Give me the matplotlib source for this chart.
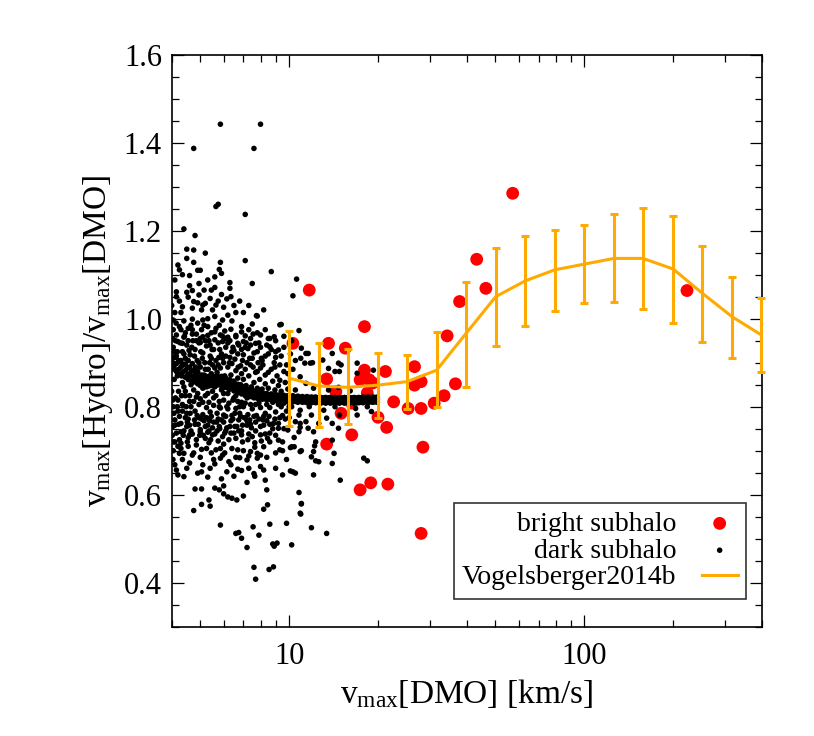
import matplotlib
matplotlib.use("Agg")
import matplotlib.pyplot as plt
from matplotlib.ticker import FixedLocator, NullFormatter, MultipleLocator

plt.rcParams['font.family'] = ['Liberation Serif', 'DejaVu Serif']
plt.rcParams['mathtext.fontset'] = 'custom'
plt.rcParams['mathtext.rm'] = 'Liberation Serif'
plt.rcParams['mathtext.it'] = 'Liberation Serif:italic'

# bright subhaloes (red circles)
bright_x = [11.7, 10.3, 13.6, 15.5, 18.0, 13.4, 18.0, 21.2, 17.4, 18.7, 19.2, 14.4,
            16.3, 18.4, 15.0, 20.0, 21.4, 22.6, 26.6, 28.0, 26.6, 25.3, 28.0, 31.0,
            33.5, 36.6, 16.3, 13.4, 28.4, 17.4, 18.9, 21.6, 28.0, 37.8, 34.3, 43.2,
            46.4, 57.2, 222.8]
bright_y = [1.065, 0.944, 0.944, 0.933, 0.982, 0.863, 0.883, 0.880, 0.861, 0.861, 0.854, 0.834,
            0.808, 0.831, 0.785, 0.776, 0.753, 0.811, 0.891, 0.857, 0.849, 0.796, 0.796, 0.808,
            0.825, 0.852, 0.736, 0.715, 0.708, 0.611, 0.627, 0.624, 0.512, 1.039, 0.961, 1.135,
            1.069, 1.285, 1.064]

# dense ridge of dark subhaloes
ridge_x = [4.0, 4.15, 4.3, 4.45, 4.6, 4.75, 4.9, 5.05, 5.2, 5.35, 5.5, 5.7, 5.9, 6.1,
           6.3, 6.5, 6.7, 6.9, 7.1, 7.35, 7.6, 7.85, 8.1, 8.4, 8.7, 9.0, 9.3, 9.6, 9.9,
           10.3, 10.7, 11.1, 11.5, 11.9, 12.3, 12.8, 13.3, 13.8, 14.3, 14.8, 15.4, 16.0,
           16.6, 17.2, 17.8, 18.5, 19.2, 19.9]
ridge_mid = [0.905, 0.898, 0.890, 0.882, 0.875, 0.869, 0.864, 0.861, 0.859, 0.858, 0.859, 0.860,
             0.858, 0.855, 0.851, 0.846, 0.842, 0.838, 0.834, 0.831, 0.828, 0.826, 0.825, 0.823,
             0.822, 0.821, 0.820, 0.819, 0.818, 0.818, 0.817, 0.817, 0.816, 0.816, 0.816, 0.815,
             0.815, 0.815, 0.815, 0.815, 0.815, 0.815, 0.815, 0.815, 0.816, 0.816, 0.816, 0.816]
ridge_top = [0.925, 0.915, 0.905, 0.897, 0.889, 0.882, 0.876, 0.872, 0.870, 0.869, 0.870, 0.871,
             0.869, 0.865, 0.861, 0.856, 0.851, 0.847, 0.843, 0.839, 0.836, 0.834, 0.832, 0.830,
             0.829, 0.828, 0.827, 0.826, 0.825, 0.825, 0.824, 0.823, 0.823, 0.822, 0.822, 0.821,
             0.821, 0.821, 0.821, 0.821, 0.821, 0.821, 0.821, 0.821, 0.822, 0.822, 0.822, 0.822]
ridge_bot = [0.887, 0.880, 0.874, 0.867, 0.861, 0.856, 0.852, 0.849, 0.848, 0.847, 0.848, 0.849,
             0.847, 0.844, 0.840, 0.836, 0.832, 0.829, 0.825, 0.823, 0.820, 0.818, 0.817, 0.816,
             0.815, 0.814, 0.813, 0.812, 0.811, 0.811, 0.810, 0.810, 0.809, 0.809, 0.809, 0.808,
             0.808, 0.808, 0.808, 0.808, 0.808, 0.808, 0.808, 0.809, 0.809, 0.809, 0.810, 0.810]
# ridge points lying between the ones above
ridge_x2 = [4.07, 4.22, 4.37, 4.52, 4.67, 4.82, 4.97, 5.12, 5.27, 5.42, 5.6, 5.8, 6.0, 6.2,
            6.4, 6.6, 6.8, 7.0, 7.22, 7.47, 7.72, 7.97, 8.25, 8.55, 8.85, 9.15, 9.45, 9.75,
            10.1, 10.5, 10.9, 11.3, 11.7, 12.1, 12.55, 13.05, 13.55, 14.05, 14.55, 15.1, 15.7,
            16.3, 16.9, 17.5, 18.15, 18.85, 19.55]
ridge2_up = [0.913, 0.905, 0.896, 0.888, 0.881, 0.875, 0.870, 0.867, 0.865, 0.865, 0.866, 0.866,
             0.863, 0.860, 0.855, 0.850, 0.846, 0.842, 0.838, 0.835, 0.832, 0.830, 0.829, 0.827,
             0.826, 0.825, 0.824, 0.823, 0.823, 0.822, 0.822, 0.821, 0.821, 0.821, 0.820, 0.820,
             0.820, 0.820, 0.820, 0.820, 0.820, 0.820, 0.820, 0.820, 0.821, 0.821, 0.821]
ridge2_dn = [0.891, 0.885, 0.879, 0.871, 0.865, 0.859, 0.855, 0.853, 0.852, 0.852, 0.853, 0.852,
             0.850, 0.847, 0.842, 0.838, 0.834, 0.830, 0.826, 0.823, 0.821, 0.819, 0.818, 0.817,
             0.816, 0.815, 0.814, 0.813, 0.813, 0.812, 0.812, 0.811, 0.811, 0.811, 0.810, 0.810,
             0.810, 0.810, 0.810, 0.810, 0.810, 0.810, 0.810, 0.810, 0.811, 0.811, 0.811]

# scattered dark subhaloes (x, y)
dark_pts = [
    (4.75, 1.387), (5.85, 1.442), (7.6, 1.387), (8.0, 1.442),
    (5.65, 1.255), (5.75, 1.260), (7.1, 1.237), (4.4, 1.204), (4.8, 1.189), (4.5, 1.158),
    (4.75, 1.156), (5.2, 1.149), (4.5, 1.137), (7.1, 1.132), (5.85, 1.128), (8.7, 1.107),
    (10.6, 1.090), (7.5, 1.080), (10.3, 1.052), (7.75, 1.007), (9.3, 0.986),
    (4.2, 1.122), (4.75, 1.128), (4.25, 1.111), (4.9, 1.110), (5.0, 1.110), (5.8, 1.112),
    (5.9, 1.103), (4.6, 1.098), (4.1, 1.088), (4.95, 1.080), (6.3, 1.082),
    (4.15, 1.061), (4.5, 1.060), (4.7, 1.064), (5.45, 1.065), (5.6, 1.071), (5.9, 1.055),
    (6.3, 1.069), (6.35, 1.050), (4.95, 1.054), (4.15, 1.050), (4.55, 1.049), (4.75, 1.039),
    (5.4, 1.046), (5.65, 1.031), (6.0, 1.026), (4.9, 1.036), (5.1, 1.031), (5.2, 1.035),
    (4.35, 1.027), (4.7, 1.024), (5.5, 1.020), (7.0, 1.014), (6.6, 1.014), (6.2, 1.008),
    (7.8, 1.006), (4.1, 1.014), (4.3, 1.014), (4.05, 0.997), (4.7, 0.999), (5.1, 0.997),
    (5.6, 1.005), (5.95, 0.997), (9.4, 0.987), (10.8, 0.973),
    (4.25, 0.982), (4.55, 0.978), (5.3, 0.982), (5.65, 0.978), (6.35, 0.976), (6.9, 0.982),
    (7.5, 0.988), (8.0, 0.963), (8.9, 0.959), (4.15, 0.963), (4.85, 0.965), (5.1, 0.959),
    (5.85, 0.963), (6.6, 0.959), (7.1, 0.961),
    (4.35, 0.944), (5.0, 0.946), (5.4, 0.940), (5.95, 0.948), (6.7, 0.944), (7.4, 0.940),
    (7.7, 0.944), (8.6, 0.936), (9.2, 0.929), (11.0, 0.933), (11.6, 0.921), (11.3, 0.899),
    (12.0, 0.900),
    (4.05, 0.935), (4.2, 0.948), (4.35, 0.925), (4.5, 0.94), (4.62, 0.918), (4.8, 0.93),
    (4.95, 0.945), (5.1, 0.922), (5.25, 0.938), (5.4, 0.915), (5.55, 0.93), (5.75, 0.945),
    (5.9, 0.92), (6.1, 0.935), (6.3, 0.912), (6.5, 0.928), (6.75, 0.94), (7.0, 0.918),
    (7.25, 0.932), (7.5, 0.91), (7.8, 0.925), (8.1, 0.905), (8.5, 0.92), (8.9, 0.9),
    (9.4, 0.915), (9.8, 0.895),
    (4.1, 0.912), (4.28, 0.902), (4.45, 0.91), (4.7, 0.898), (4.88, 0.905), (5.0, 0.89),
    (5.18, 0.9), (5.32, 0.885), (5.5, 0.895), (5.65, 0.905), (5.85, 0.888), (6.0, 0.9),
    (6.2, 0.89), (6.4, 0.898), (6.6, 0.882), (6.85, 0.893), (7.1, 0.885), (7.4, 0.895),
    (7.7, 0.878), (8.0, 0.888), (8.3, 0.872), (8.7, 0.885), (9.1, 0.87), (9.6, 0.88),
    (4.2, 0.875), (4.55, 0.862), (4.9, 0.88), (5.15, 0.872), (5.45, 0.875), (5.7, 0.878),
    (6.05, 0.87), (6.35, 0.872), (6.7, 0.865), (7.0, 0.862), (7.3, 0.87), (7.6, 0.855),
    (7.95, 0.862), (8.3, 0.852), (8.8, 0.858), (9.2, 0.848), (9.7, 0.855),
    (4.4, 0.958), (4.7, 0.965), (5.0, 0.955), (5.3, 0.962), (5.6, 0.952), (5.95, 0.96),
    (6.3, 0.95), (6.6, 0.962), (7.0, 0.948), (7.4, 0.955), (7.9, 0.945), (8.4, 0.94),
    (4.05, 0.8), (4.2, 0.79), (4.35, 0.805), (4.5, 0.785), (4.65, 0.8), (4.8, 0.79),
    (4.95, 0.805), (5.1, 0.782), (5.25, 0.798), (5.4, 0.788), (5.55, 0.803), (5.7, 0.785),
    (5.85, 0.797), (6.0, 0.781), (6.2, 0.795), (6.4, 0.78), (6.6, 0.796), (6.8, 0.785),
    (7.0, 0.8), (7.25, 0.782), (7.5, 0.795), (7.75, 0.78), (8.0, 0.798), (8.3, 0.785),
    (8.6, 0.798), (9.0, 0.788), (9.4, 0.8), (9.8, 0.79),
    (4.1, 0.77), (4.3, 0.762), (4.45, 0.775), (4.6, 0.758), (4.78, 0.77), (4.92, 0.76),
    (5.05, 0.772), (5.2, 0.755), (5.38, 0.768), (5.5, 0.752), (5.68, 0.765), (5.82, 0.75),
    (6.0, 0.765), (6.15, 0.752), (6.35, 0.768), (6.55, 0.755), (6.75, 0.77), (6.95, 0.758),
    (7.2, 0.768), (7.45, 0.752), (7.7, 0.765), (8.0, 0.755), (8.4, 0.768), (8.8, 0.75),
    (9.2, 0.762), (9.7, 0.772),
    (4.2, 0.815), (4.6, 0.812), (5.0, 0.818), (5.35, 0.81), (5.8, 0.812), (6.25, 0.808),
    (6.7, 0.812), (7.1, 0.808), (4.0, 0.835), (4.4, 0.845), (4.75, 0.838), (5.1, 0.842),
    (5.5, 0.835), (5.9, 0.838), (6.2, 0.83), (6.6, 0.825),
    (4.15, 0.74), (4.4, 0.745), (4.7, 0.738), (5.0, 0.748), (5.3, 0.742), (5.6, 0.738),
    (6.1, 0.745), (6.5, 0.74), (6.9, 0.745), (7.3, 0.738), (7.7, 0.745), (8.3, 0.738),
    (4.75, 0.564), (5.85, 0.531), (6.6, 0.512), (6.75, 0.514), (6.9, 0.501), (7.2, 0.480),
    (7.55, 0.527), (7.9, 0.508), (8.6, 0.533), (9.8, 0.535), (8.8, 0.488), (8.9, 0.483),
    (9.1, 0.490), (10.2, 0.486), (11.9, 0.525), (13.4, 0.512), (7.6, 0.435), (7.7, 0.408),
    (8.55, 0.430), (8.85, 0.436),
    (5.05, 0.578), (5.4, 0.574), (5.35, 0.588), (6.0, 0.602), (6.2, 0.595), (6.4, 0.592),
    (6.65, 0.588), (7.0, 0.597), (5.8, 0.611), (6.0, 0.620), (5.6, 0.615), (4.8, 0.613),
    (5.05, 0.613), (8.2, 0.567), (8.45, 0.577), (8.4, 0.611), (10.8, 0.605), (11.0, 0.579),
    (10.95, 0.556),
    (7.2, 0.628), (7.65, 0.642), (8.2, 0.656), (8.3, 0.633), (8.0, 0.664), (7.8, 0.683),
    (7.2, 0.679), (6.8, 0.684), (6.7, 0.658), (6.35, 0.668), (6.15, 0.652), (5.9, 0.636),
    (5.85, 0.683), (5.95, 0.690), (4.4, 0.641), (4.9, 0.649), (5.05, 0.652), (5.3, 0.640),
    (4.15, 0.656), (4.1, 0.668), (4.35, 0.680), (4.4, 0.694), (4.25, 0.694), (4.7, 0.690),
    (4.85, 0.713), (5.05, 0.703), (5.2, 0.728), (5.35, 0.718), (5.45, 0.695), (5.65, 0.702),
    (6.7, 0.702), (7.4, 0.698), (7.8, 0.694), (8.2, 0.709), (8.6, 0.720), (9.2, 0.724),
    (9.8, 0.680), (10.1, 0.654), (10.3, 0.652), (10.5, 0.649), (10.1, 0.707), (10.4, 0.709),
    (11.0, 0.700), (12.1, 0.645), (12.3, 0.677), (12.2, 0.711), (10.4, 0.730), (10.9, 0.753),
    (11.6, 0.751), (9.9, 0.747), (9.2, 0.751), (8.6, 0.740), (8.0, 0.736), (7.5, 0.732),
    (6.9, 0.736), (6.35, 0.740), (5.95, 0.732), (5.5, 0.736), (4.6, 0.736), (4.3, 0.717),
    (4.1, 0.720), (4.3, 0.743), (5.0, 0.743), (4.1, 0.758), (4.5, 0.755), (5.3, 0.758),
    (5.8, 0.755), (6.65, 0.755), (7.2, 0.758), (8.2, 0.758), (8.85, 0.762), (10.9, 0.762),
    (18.4, 0.677), (14.9, 0.633), (11.0, 0.580), (10.9, 0.558), (12.6, 0.675), (14.0, 0.671),
    (12.1, 0.698), (14.2, 0.694), (10.9, 0.698), (9.3, 0.702),
    (10.95, 0.910), (11.4, 0.921), (11.8, 0.899), (13.0, 0.906), (14.0, 0.921), (14.7, 0.899),
    (13.6, 0.887), (14.3, 0.880), (15.0, 0.895), (14.8, 0.880), (17.0, 0.899), (19.3, 0.883),
    (17.0, 0.876), (10.9, 0.868), (11.4, 0.853), (12.1, 0.842), (13.6, 0.838), (14.7, 0.844),
    (16.1, 0.836),
    (10.2, 0.800), (10.9, 0.792), (11.7, 0.800), (10.8, 0.781), (11.9, 0.781), (13.1, 0.792),
    (14.3, 0.800), (13.4, 0.774), (14.8, 0.781), (17.0, 0.781), (16.8, 0.796), (18.4, 0.800),
    (19.0, 0.789), (10.5, 0.766), (11.4, 0.766), (12.6, 0.762), (14.0, 0.762), (14.7, 0.751),
    (10.8, 0.743), (12.1, 0.743), (12.3, 0.720), (14.0, 0.724), (10.2, 0.709), (11.9, 0.686),
    (17.9, 0.683),
    # filling the crowded part of the cloud
    (4.4, 0.995), (4.9, 0.99), (5.3, 1.0), (5.8, 0.985), (6.4, 0.995), (6.9, 0.97),
    (7.3, 0.975), (8.3, 0.975), (8.6, 0.955),
    (4.05, 0.975), (4.45, 0.968), (4.65, 0.985), (5.05, 0.975), (5.45, 0.968), (6.05, 0.972),
    (6.2, 0.958), (7.8, 0.968), (9.0, 0.95), (9.6, 0.96), (10.2, 0.95),
    (4.12, 0.95), (4.58, 0.928), (4.72, 0.95), (5.2, 0.95), (5.48, 0.93), (5.82, 0.93),
    (6.2, 0.945), (6.4, 0.925), (6.9, 0.93), (7.15, 0.945), (7.6, 0.922), (8.0, 0.935),
    (8.3, 0.915), (8.7, 0.93), (9.0, 0.912), (9.6, 0.935), (10.1, 0.92), (10.5, 0.905),
    (4.02, 0.9), (4.18, 0.925), (4.38, 0.895), (4.55, 0.905), (4.78, 0.915), (4.95, 0.9),
    (5.08, 0.91), (5.38, 0.9), (5.6, 0.888), (5.78, 0.912), (6.1, 0.915), (6.28, 0.9),
    (6.55, 0.908), (6.72, 0.89), (6.95, 0.905), (7.2, 0.9), (7.55, 0.89), (7.85, 0.9),
    (8.15, 0.895), (8.5, 0.878), (8.95, 0.89), (9.3, 0.895), (9.9, 0.875), (10.3, 0.885),
    (4.08, 0.862), (4.35, 0.855), (4.65, 0.85), (5.0, 0.848), (5.25, 0.845), (5.6, 0.845),
    (5.95, 0.842), (6.25, 0.84), (6.5, 0.858), (6.85, 0.85), (7.15, 0.848), (7.45, 0.845),
    (7.8, 0.842), (8.1, 0.84), (8.5, 0.842), (8.95, 0.838), (9.4, 0.835), (9.9, 0.84),
    (10.5, 0.838),
    (4.12, 0.82), (4.45, 0.825), (4.85, 0.822), (5.2, 0.825), (5.55, 0.82), (6.0, 0.815),
    (6.45, 0.815), (6.9, 0.81), (7.4, 0.805), (7.9, 0.808), (8.4, 0.805), (8.8, 0.81),
    (9.2, 0.805), (9.6, 0.808), (10.0, 0.8),
    (4.25, 0.778), (4.55, 0.772), (4.88, 0.78), (5.15, 0.768), (5.45, 0.778), (5.75, 0.772),
    (6.1, 0.778), (6.45, 0.772), (6.85, 0.778), (7.1, 0.775), (7.35, 0.77), (7.6, 0.778),
    (7.9, 0.772), (8.2, 0.778), (8.55, 0.778), (8.95, 0.772), (9.5, 0.78), (10.0, 0.775),
    (4.02, 0.735), (4.25, 0.725), (4.55, 0.73), (4.85, 0.725), (5.12, 0.735), (5.42, 0.725),
    (5.75, 0.722), (6.0, 0.715), (6.25, 0.725), (6.6, 0.728), (6.95, 0.72), (7.25, 0.725),
    (7.65, 0.718), (8.05, 0.722), (8.45, 0.728), (9.0, 0.735), (9.5, 0.72),
    (4.05, 0.7), (4.3, 0.705), (4.55, 0.71), (4.75, 0.695), (5.0, 0.685), (5.25, 0.705),
    (5.55, 0.68), (5.85, 0.705), (6.05, 0.695), (6.4, 0.705), (6.6, 0.685), (7.0, 0.7),
    (7.3, 0.688), (7.65, 0.708), (8.0, 0.69), (8.4, 0.685), (9.0, 0.695), (9.5, 0.7),
    (4.2, 0.645), (4.5, 0.66), (4.6, 0.672), (5.1, 0.668), (5.4, 0.66), (5.6, 0.67),
    (6.25, 0.675), (6.5, 0.642), (6.9, 0.655), (7.3, 0.66), (7.6, 0.648), (9.0, 0.66),
    (9.5, 0.645),
    (4.0, 1.03), (4.25, 1.04), (4.6, 1.075), (5.15, 1.065), (5.3, 1.088), (5.05, 1.02),
    (5.75, 1.04), (6.15, 1.045), (6.5, 1.03), (6.8, 1.04), (7.3, 1.03), (8.2, 1.02),
    (4.35, 1.1), (5.6, 1.095),
    (4.03, 0.955), (4.08, 0.885), (4.03, 0.815), (4.07, 0.785), (4.03, 0.755), (4.06, 0.72),
    (4.04, 0.68), (4.09, 0.925), (4.14, 0.99), (4.18, 0.87), (4.22, 0.835), (4.18, 0.8),
    (4.22, 0.76), (4.2, 0.71), (4.28, 0.945), (4.3, 0.975), (4.32, 0.87), (4.32, 0.825),
    (4.35, 0.79), (4.38, 0.735), (4.4, 0.92), (4.42, 0.96), (4.45, 0.835), (4.48, 0.8),
    (4.52, 0.765), (4.52, 0.72), (4.55, 0.95), (4.6, 0.89), (4.6, 0.825), (4.62, 0.785),
    (4.65, 0.745), (4.68, 0.935), (4.7, 0.975), (4.72, 0.86), (4.75, 0.812), (4.8, 0.76),
    (4.82, 0.89), (4.85, 0.95), (4.9, 0.83), (4.95, 0.775), (4.98, 0.735), (5.02, 0.925),
    (5.05, 0.87), (5.1, 0.81), (5.15, 0.985), (5.2, 0.885), (5.25, 0.775), (5.3, 0.83),
    (5.35, 0.745), (5.35, 0.95), (5.45, 0.91), (5.5, 0.85), (5.55, 0.765), (5.6, 0.97),
    (5.65, 0.825), (5.7, 0.745), (5.75, 0.895), (5.8, 0.8), (5.9, 0.77), (5.95, 0.91),
    (6.0, 0.83), (6.05, 0.74), (6.1, 0.955), (6.15, 0.8), (6.3, 0.86), (6.3, 0.755),
    (6.45, 0.935), (6.5, 0.82), (6.55, 0.785), (6.7, 0.92), (6.75, 0.745), (6.8, 0.8),
    (6.9, 0.875), (7.05, 0.775), (7.1, 0.935), (7.2, 0.82), (7.35, 0.91), (7.4, 0.76),
    (7.55, 0.965), (7.7, 0.805), (7.8, 0.88), (8.05, 0.91), (8.15, 0.77), (8.5, 0.955),
    (8.6, 0.76), (9.0, 0.925), (9.3, 0.775), (9.6, 0.75), (9.3, 0.86),
]

# Vogelsberger2014b median relation with scatter
vog_x = [10.0, 12.6, 15.8, 20.0, 25.1, 31.6, 39.8, 50.1, 63.1, 79.4, 100.0, 126.0, 158.0,
         200.0, 251.0, 316.0, 398.0]
vog_y = [0.865, 0.847, 0.844, 0.849, 0.857, 0.883, 0.967, 1.050, 1.086, 1.111, 1.124, 1.137,
         1.137, 1.113, 1.058, 1.005, 0.963]
vog_lo = [0.755, 0.753, 0.761, 0.774, 0.794, 0.799, 0.845, 0.939, 0.984, 1.018, 1.036, 1.039,
          1.021, 0.991, 0.948, 0.910, 0.879]
vog_hi = [0.973, 0.945, 0.930, 0.921, 0.917, 0.969, 1.084, 1.160, 1.188, 1.202, 1.213, 1.237,
          1.252, 1.234, 1.166, 1.095, 1.046]

ORANGE = '#FFAA00'
DOT = 16

fig = plt.figure(figsize=(8.14, 7.36), dpi=100)
ax = fig.add_axes([0.2109, 0.1485, 0.7252, 0.7772])

dark_x = [p[0] for p in dark_pts]
dark_y = [p[1] for p in dark_pts]

h_bright = ax.scatter(bright_x, bright_y, s=85, color='red', edgecolors='none', zorder=2)
h_dark = ax.scatter(dark_x, dark_y, s=DOT, color='black', edgecolors='none', zorder=3)
for ry in (ridge_mid, ridge_top, ridge_bot):
    ax.scatter(ridge_x, ry, s=DOT, color='black', edgecolors='none', zorder=3)
for ry in (ridge2_up, ridge2_dn):
    ax.scatter(ridge_x2, ry, s=DOT, color='black', edgecolors='none', zorder=3)

yerr = [[m - l for m, l in zip(vog_y, vog_lo)], [h - m for m, h in zip(vog_y, vog_hi)]]
ax.errorbar(vog_x, vog_y, yerr=yerr, fmt='none', ecolor=ORANGE, elinewidth=2.2,
            capsize=3.2, capthick=2.2, zorder=4, clip_on=False)
h_vog, = ax.plot(vog_x, vog_y, color=ORANGE, lw=2.2, zorder=4)

ax.set_xscale('log')
ax.set_xlim(4, 400)
ax.set_ylim(0.3, 1.6)

ax.xaxis.set_major_locator(FixedLocator([10, 100]))
ax.xaxis.set_major_formatter(plt.FixedFormatter(['10', '100']))
ax.xaxis.set_minor_locator(FixedLocator([4, 5, 6, 7, 8, 9, 20, 30, 40, 50, 60, 70, 80, 90,
                                         200, 300, 400]))
ax.xaxis.set_minor_formatter(NullFormatter())
ax.yaxis.set_major_locator(MultipleLocator(0.2))
ax.yaxis.set_minor_locator(MultipleLocator(0.05))
ax.set_yticks([0.4, 0.6, 0.8, 1.0, 1.2, 1.4, 1.6])

ax.tick_params(which='both', direction='in', top=True, right=True, width=0.9, labelsize=22)
ax.tick_params(which='major', length=8.6)
ax.tick_params(which='minor', length=5)
ax.tick_params(axis='y', pad=7)
ax.tick_params(axis='x', pad=11)
for s in ax.spines.values():
    s.set_linewidth(1.2)

ax.set_xlabel(r'v$_{\rm max}$[DMO] [km/s]', fontsize=24, labelpad=4)
ax.set_ylabel(r'v$_{\rm max}$[Hydro]/v$_{\rm max}$[DMO]', fontsize=24, labelpad=6)

leg = ax.legend([h_bright, h_dark, h_vog], ['bright subhalo', 'dark subhalo', 'Vogelsberger2014b'],
                loc='lower right', bbox_to_anchor=(0.973, 0.049), markerfirst=False,
                fontsize=20, frameon=True, fancybox=False, edgecolor='black',
                handlelength=1.3, labelspacing=0.05, borderpad=0.3, handletextpad=0.9,
                scatterpoints=1, borderaxespad=0)
leg.get_frame().set_linewidth(1.2)

fig.savefig('out.png', dpi=100)
